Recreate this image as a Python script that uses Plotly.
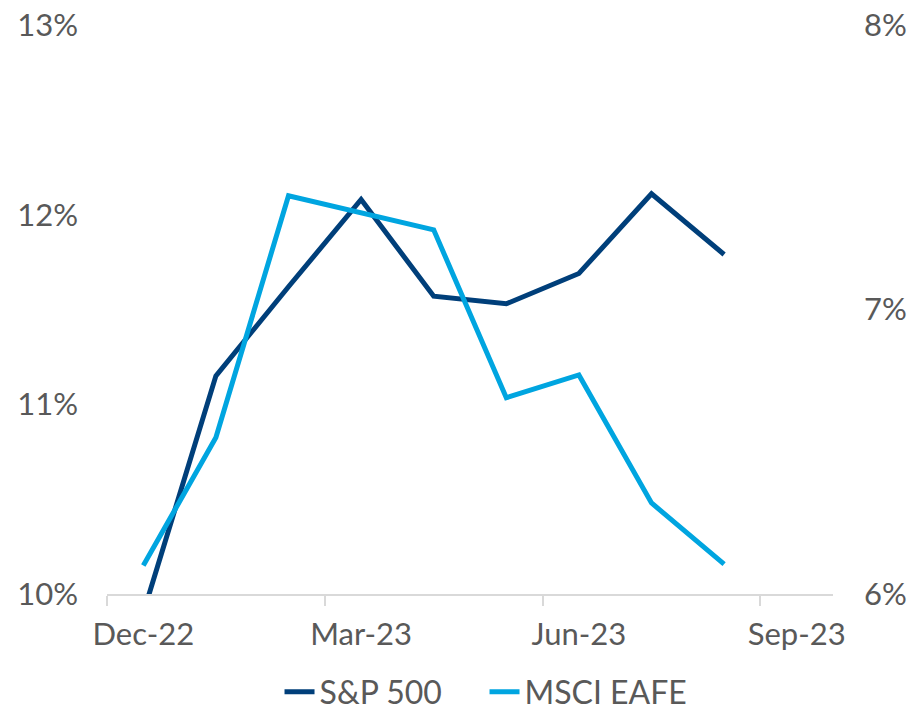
import plotly.graph_objects as go

months = ["Dec-22", "Jan-23", "Feb-23", "Mar-23", "Apr-23", "May-23", "Jun-23", "Jul-23", "Aug-23"]
sp500 = [9.90, 11.15, 11.62, 12.08, 11.57, 11.53, 11.69, 12.11, 11.79]
eafe = [6.10, 6.55, 7.40, 7.34, 7.28, 6.69, 6.77, 6.32, 6.105]
tick_labels = ["Dec-22", "Mar-23", "Jun-23", "Sep-23"]
left_ticks = [10, 11, 12, 13]
right_ticks = [6, 7, 8]

x_idx = list(range(len(months)))
label_pos = [0, 3, 6, 9]
tickmark_pos = [-0.5, 2.5, 5.5, 8.5]

FONT = "Lato, 'Open Sans', sans-serif"
GREY = "#595959"
FS = 31

fig = go.Figure()
fig.add_trace(go.Scatter(x=x_idx, y=sp500, name="S&P 500", mode="lines",
                         line=dict(color="#003F7A", width=5), yaxis="y"))
fig.add_trace(go.Scatter(x=x_idx, y=eafe, name="MSCI EAFE", mode="lines",
                         line=dict(color="#00A5E0", width=5), yaxis="y2"))

fig.update_layout(
    width=910, height=711,
    margin=dict(l=107, r=77, t=25, b=117),
    paper_bgcolor="white", plot_bgcolor="white",
    font=dict(family=FONT, size=FS, color=GREY),
    showlegend=True,
    legend=dict(orientation="h", x=0.52, xanchor="center", xref="paper",
                y=(711 - 692) / 711, yanchor="middle", yref="container",
                entrywidth=160, entrywidthmode="pixels",
                font=dict(size=32, color=GREY), traceorder="normal"),
    xaxis=dict(range=[-0.5, 9.5], tickmode="array", tickvals=label_pos, ticktext=tick_labels,
               ticks="", showgrid=False, zeroline=False, automargin=False,
               showline=True, linecolor="#D9D9D9", linewidth=2,
               minor=dict(tickmode="array", tickvals=tickmark_pos, ticks="outside",
                          ticklen=10, tickcolor="#D9D9D9", tickwidth=2, showgrid=False),
               tickfont=dict(size=FS, color=GREY), ticklabelstandoff=12),
    yaxis=dict(range=[10, 13], tickmode="array", tickvals=left_ticks, automargin=False,
               ticktext=[f"{v}%" for v in left_ticks], showgrid=False, zeroline=False,
               showline=False, ticks="", tickfont=dict(size=FS, color=GREY),
               ticklabelstandoff=28),
    yaxis2=dict(range=[6, 8], tickmode="array", tickvals=right_ticks, automargin=False,
                ticktext=[f"{v}%" for v in right_ticks], overlaying="y", side="right",
                showgrid=False, zeroline=False, showline=False, ticks="",
                tickfont=dict(size=FS, color=GREY), ticklabelstandoff=30),
)

fig.write_html("out.html", config={"displayModeBar": False},
               post_script="document.body.style.margin='0';document.body.style.overflow='hidden';")
